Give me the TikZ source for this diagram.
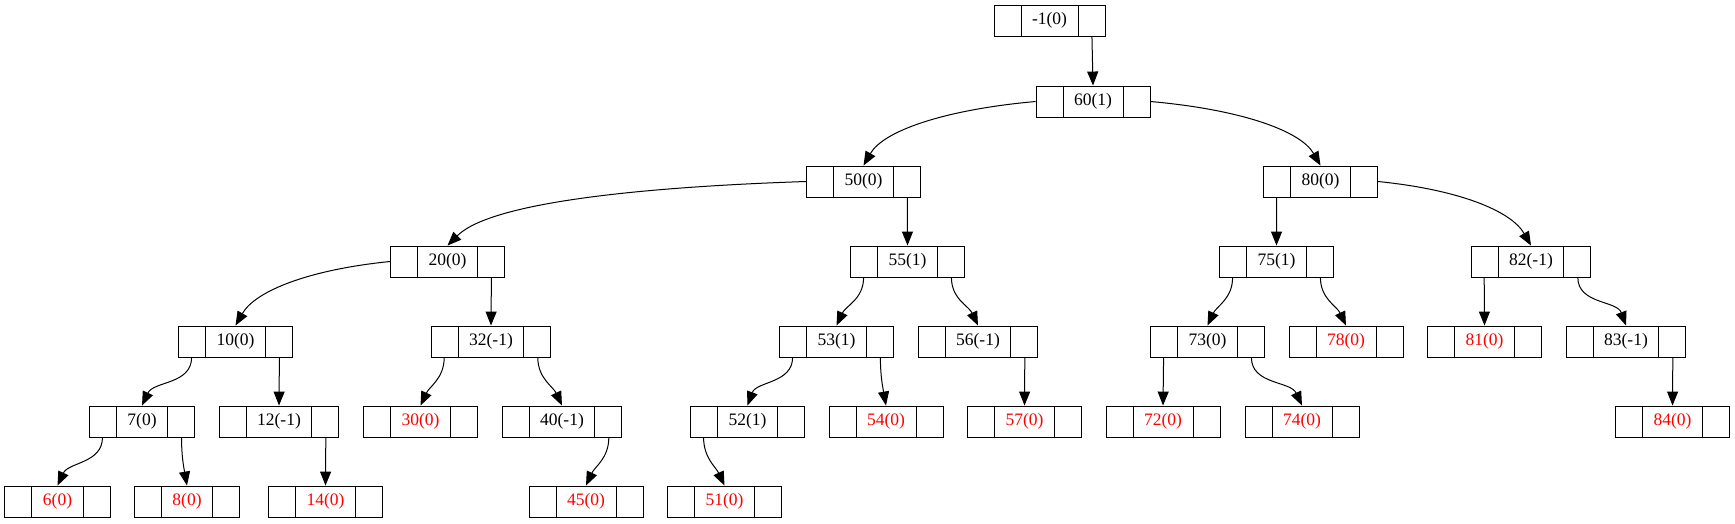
\documentclass[tikz,border=0pt]{standalone}
\usepackage{fontspec}
\setmainfont{Liberation Serif}
\usetikzlibrary{arrows.meta}
\definecolor{LeafRed}{HTML}{FF0000}
\tikzset{
  avl/.style={draw=black, line width=0.9pt, rectangle, minimum height=31pt,
              inner xsep=38pt, inner ysep=0pt,
              font=\fontsize{17.5}{21}\selectfont,
              path picture={
                \draw[line width=0.9pt]
                  ([xshift=27pt]path picture bounding box.north west) --
                  ([xshift=27pt]path picture bounding box.south west)
                  ([xshift=-27pt]path picture bounding box.north east) --
                  ([xshift=-27pt]path picture bounding box.south east);}},
  leaf/.style={avl, text=LeafRed},
  link/.style={-{Triangle[length=14pt, width=11pt]}, line width=1pt},
  lport/.style={xshift=13.5pt},
  rport/.style={xshift=-13.5pt},
}

\begin{document}
\begin{tikzpicture}[x=1pt, y=1pt]
    \useasboundingbox (0,0) rectangle (1735,-523);
    % header and root
    \node[avl] (nhead) at (1049.5,-20.5) {-1(0)};
    \node[avl] (n60) at (1093,-101.5) {60(1)};
    % level 2
    \node[avl] (n50) at (863.5,-181.5) {50(0)};
    \node[avl] (n80) at (1320.5,-181.5) {80(0)};
    % level 3
    \node[avl] (n20) at (447.5,-261.5) {20(0)};
    \node[avl] (n55) at (907.5,-261.5) {55(1)};
    \node[avl] (n75) at (1276.5,-261.5) {75(1)};
    \node[avl] (n82) at (1531,-261.5) {82(-1)};
    % level 4
    \node[avl] (n10) at (235.5,-341.5) {10(0)};
    \node[avl] (n32) at (491,-341.5) {32(-1)};
    \node[avl] (n53) at (836.5,-341.5) {53(1)};
    \node[avl] (n56) at (978,-341.5) {56(-1)};
    \node[avl] (n73) at (1207.5,-341.5) {73(0)};
    \node[leaf] (n78) at (1346,-341.5) {78(0)};
    \node[leaf] (n81) at (1484.5,-341.5) {81(0)};
    \node[avl] (n83) at (1626,-341.5) {83(-1)};
    % level 5
    \node[avl] (n7) at (142,-421.5) {7(0)};
    \node[avl] (n12) at (279,-421.5) {12(-1)};
    \node[leaf] (n30) at (420.5,-421.5) {30(0)};
    \node[avl] (n40) at (562,-421.5) {40(-1)};
    \node[avl] (n52) at (747.5,-421.5) {52(1)};
    \node[leaf] (n54) at (886,-421.5) {54(0)};
    \node[leaf] (n57) at (1024.5,-421.5) {57(0)};
    \node[leaf] (n72) at (1163,-421.5) {72(0)};
    \node[leaf] (n74) at (1302,-421.5) {74(0)};
    \node[leaf] (n84) at (1672.5,-421.5) {84(0)};
    % level 6
    \node[leaf] (n6) at (57.5,-501.5) {6(0)};
    \node[leaf] (n8) at (187,-501.5) {8(0)};
    \node[leaf] (n14) at (325.5,-501.5) {14(0)};
    \node[leaf] (n45) at (586,-501.5) {45(0)};
    \node[leaf] (n51) at (724.5,-501.5) {51(0)};

    % straight links
    \draw[link] ([rport]nhead.south east) -- (n60.north);
    \draw[link] ([rport]n50.south east) -- (n55.north);
    \draw[link] ([lport]n80.south west) -- (n75.north);
    \draw[link] ([rport]n20.south east) -- (n32.north);
    \draw[link] ([lport]n82.south west) -- (n81.north);
    \draw[link] ([rport]n10.south east) -- (n12.north);
    \draw[link] ([rport]n56.south east) -- (n57.north);
    \draw[link] ([lport]n73.south west) -- (n72.north);
    \draw[link] ([rport]n83.south east) -- (n84.north);
    \draw[link] ([rport]n12.south east) -- (n14.north);

    % long links leaving from the sides
    \draw[link] (n60.west) .. controls +(-90,-8) and +(20,35) .. (n50.north);
    \draw[link] (n60.east) .. controls +(90,-8) and +(-20,35) .. (n80.north);
    \draw[link] (n50.west) .. controls +(-150,-5) and +(45,45) .. (n20.north);
    \draw[link] (n80.east) .. controls +(80,-8) and +(-20,35) .. (n82.north);
    \draw[link] (n20.west) .. controls +(-80,-8) and +(20,35) .. (n10.north);

    % short bent links
    \draw[link] ([lport]n55.south west) to[out=-90, in=65] (n53.north);
    \draw[link] ([rport]n55.south east) to[out=-90, in=115] (n56.north);
    \draw[link] ([lport]n75.south west) to[out=-90, in=65] (n73.north);
    \draw[link] ([rport]n75.south east) to[out=-90, in=115] (n78.north);
    \draw[link] ([rport]n82.south east) to[out=-90, in=110] (n83.north);
    \draw[link] ([lport]n10.south west) to[out=-90, in=65] (n7.north);
    \draw[link] ([lport]n32.south west) to[out=-90, in=65] (n30.north);
    \draw[link] ([rport]n32.south east) to[out=-90, in=115] (n40.north);
    \draw[link] ([lport]n53.south west) to[out=-90, in=70] (n52.north);
    \draw[link] ([rport]n53.south east) to[out=-90, in=100] (n54.north);
    \draw[link] ([rport]n73.south east) to[out=-90, in=115] (n74.north);
    \draw[link] ([lport]n7.south west) to[out=-90, in=65] (n6.north);
    \draw[link] ([rport]n7.south east) to[out=-90, in=100] (n8.north);
    \draw[link] ([rport]n40.south east) to[out=-90, in=65] (n45.north);
    \draw[link] ([lport]n52.south west) to[out=-90, in=115] (n51.north);
  \end{tikzpicture}
\end{document}
